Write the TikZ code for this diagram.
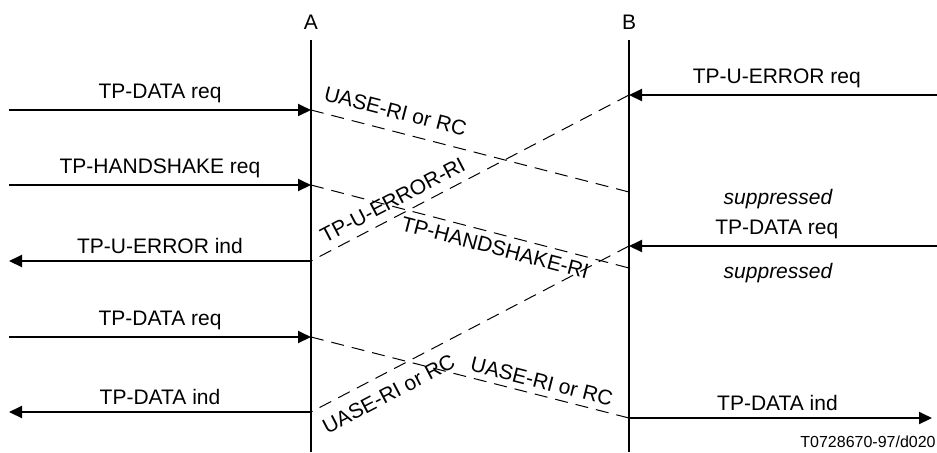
\documentclass[tikz,border=0pt]{standalone}
\usepackage{fontspec}
\setmainfont{Liberation Sans}
\usetikzlibrary{arrows.meta}
\tikzset{
    msg/.style={line width=1pt, -{Triangle[length=6.5pt, width=6pt]}},
    ri/.style={line width=0.5pt, dash pattern=on 6.5pt off 4pt},
    lbl/.style={font=\fontsize{10.5}{12}\selectfont, inner sep=3pt},
    note/.style={font=\fontsize{10.5}{12}\selectfont\itshape, inner sep=0pt},
}
\begin{document}
\begin{tikzpicture}[x=0.5pt, y=-0.5pt]
    \useasboundingbox (0, 0) rectangle (937, 452);
    % lifelines
    \foreach \n/\x in {A/311, B/629} {
        \node[lbl] (\n) at (\x, 22) {\n};
        \coordinate (\n top) at (\x, 40);
        \coordinate (\n bot) at (\x, 452);
        \draw[line width=1pt] (\n top) -- (\n bot);
    }
    % points on the lifelines and free ends
    \foreach \y in {110, 185, 261, 337, 412} {
        \coordinate (a\y) at (311, \y);
        \coordinate (l\y) at (9, \y);
    }
    \foreach \y in {95, 192, 246, 268, 418} {
        \coordinate (b\y) at (629, \y);
        \coordinate (r\y) at (937, \y);
    }
    \coordinate (r418) at (932, 418);
    % primitives at A
    \draw[msg] (l110) -- node[lbl, above] {TP-DATA req} (a110);
    \draw[msg] (l185) -- node[lbl, above] {TP-HANDSHAKE req} (a185);
    \draw[msg] (a261) -- node[lbl, above] {TP-U-ERROR ind} (l261);
    \draw[msg] (l337) -- node[lbl, above] {TP-DATA req} (a337);
    \draw[msg] (a412) -- node[lbl, above] {TP-DATA ind} (l412);
    % primitives at B
    \draw[msg] (r95) -- node[lbl, above, pos=0.52] {TP-U-ERROR req} (b95);
    \draw[msg] (r246) -- node[lbl, above, pos=0.52] {TP-DATA req} (b246);
    \draw[msg] (b418) -- node[lbl, above, pos=0.49] {TP-DATA ind} (r418);
    \node[note] (sup1) at (778, 199) {suppressed};
    \node[note] (sup2) at (778, 273) {suppressed};
    % PDUs
    \draw[ri] (a110) -- node[lbl, sloped, above=3pt, pos=0.25] {UASE-RI or RC} (b192);
    \draw[ri] (b95) -- node[lbl, sloped, above=1pt, pos=0.72] {TP-U-ERROR-RI} (a261);
    \draw[ri] (a185) -- node[lbl, sloped, below, pos=0.59] {TP-HANDSHAKE-RI} (b268);
    \draw[ri] (b246) -- node[lbl, sloped, below=3pt, pos=0.785] {UASE-RI or RC} (a412);
    \draw[ri] (a337) -- node[lbl, sloped, above, pos=0.715] {UASE-RI or RC} (b418);
    \node[font=\fontsize{8}{9.6}\selectfont, inner sep=0pt] (code) at (868, 442) {T0728670-97/d020};
\end{tikzpicture}
\end{document}
